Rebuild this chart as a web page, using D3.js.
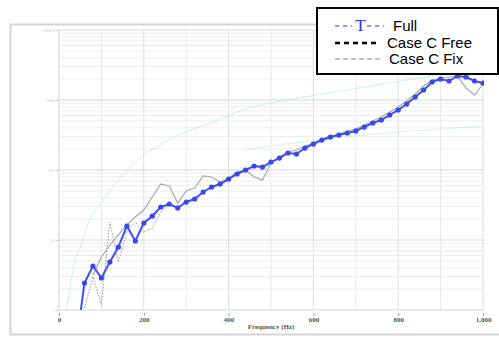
<!DOCTYPE html>
<html>
<head>
<meta charset="utf-8">
<script src="https://cdn.jsdelivr.net/npm/d3@7"></script>
<style>
  body { margin: 0; background: #fff; }
  svg { display: block; }
</style>
</head>
<body>
<svg id="chart" width="499" height="339"></svg>
<script>
// frequency (Hz) of the measured points
const freqs = [60, 80, 100, 120, 140, 160, 180, 200, 220, 240, 260, 280, 300, 320, 340, 360, 380, 400,
  420, 440, 460, 480, 500, 520, 540, 560, 580, 600, 620, 640, 660, 680, 700, 720, 740, 760, 780, 800,
  820, 840, 860, 880, 900, 920, 940, 960, 980, 1000];
const fullVals = [2.43, 4.25, 2.87, 4.85, 7.94, 15.8, 9.68, 17.5, 22.0, 29.6, 32.7, 28.7, 34.9, 38.5, 48.5,
  57.2, 63.1, 74.3, 87.7, 100, 114, 110, 130, 148, 175, 169, 206, 235, 268, 296, 316, 338, 361, 411, 469,
  518, 611, 720, 877, 1104, 1389, 1807, 1995, 1868, 2203, 2131, 1868, 1749];
const freeVals = [1.07, 2.96, 1.18, 18.1, 4.85, 13.0, 18.1, 13.0, 14.8, 25.1, 32, 29, 35, 39, 48, 57, 63, 74,
  88, 100, 114, 110, 130, 148, 175, 169, 206, 235, 268, 296, 316, 338, 361, 411, 469, 518, 611, 720, 877,
  1104, 1389, 1807, 1995, 1868, 2203, 2131, 1868, 1749];
const fixFreqs = freqs.slice(1);
const fixVals = [3.16, 5.72, 8.48, 11.8, 16.4, 21.3, 26.8, 41.2, 63.1, 59.1, 33.8, 50.1, 55.3, 82.1, 79.4,
  67.4, 76.9, 93.6, 100, 79.4, 72.0, 126, 153, 181, 193, 220, 243, 277, 306, 327, 361, 385, 439, 501, 572,
  674, 794, 968, 1218, 1585, 1931, 2062, 2131, 2203, 1484, 1179, 1693];
// reference curves (light cyan)
const upperFreqs = [18, 25, 35, 50, 70, 100, 140, 200, 250, 300, 350, 450, 550, 650, 750, 850, 1000];
const upperVals = [1.0, 1.81, 4.39, 7.69, 18.1, 33.8, 72.0, 164, 251, 349, 454, 769, 1033, 1301, 1638, 2062, 2683];
const lowerFreqs = [440, 500, 600, 700, 800, 900, 1000];
const lowerVals = [193, 220, 260, 306, 349, 385, 425];

const xTicks = [0, 200, 400, 600, 800, 1000];
const yTicks = [1, 10, 100, 1000, 10000];

const svg = d3.select('#chart');
const pLeft = 58, pRight = 484, pTop = 30, pBottom = 310;

const x = d3.scaleLinear().domain([0, 1000]).range([59, 483]);
const y = d3.scaleLog().domain([1, 10000]).range([pBottom, pTop]);

// outer frame
svg.append('rect').attr('x', 10.5).attr('y', 24.5).attr('width', 500).attr('height', 310)
  .attr('fill', 'none').attr('stroke', '#d4d4d4').attr('stroke-width', 2);

// grid
const grid = svg.append('g');
grid.selectAll('.vx').data(d3.range(0, 1001, 100)).enter().append('line')
  .attr('x1', d => x(d)).attr('x2', d => x(d)).attr('y1', pTop).attr('y2', pBottom)
  .attr('stroke', d => d % 200 === 0 ? '#dcdcdc' : '#e8e8e8').attr('stroke-width', 1);
const minor = [];
for (let e = 0; e < 4; e++) for (let m = 1; m < 10; m++) minor.push(m * Math.pow(10, e));
minor.push(10000);
grid.selectAll('.hy').data(minor).enter().append('line')
  .attr('x1', pLeft).attr('x2', pRight).attr('y1', d => y(d)).attr('y2', d => y(d))
  .attr('stroke', d => yTicks.includes(d) ? '#d8d8d8' : '#ececec').attr('stroke-width', 1);

// axes (tick labels only, the axis lines are faint)
const xAxis = svg.append('g').attr('transform', 'translate(0,' + (pBottom + 3) + ')')
  .call(d3.axisBottom(x).tickValues(xTicks).tickSize(3).tickPadding(1));
xAxis.select('.domain').remove();
xAxis.selectAll('line').attr('stroke', '#999');
xAxis.selectAll('text').attr('font-family', 'Liberation Serif').attr('font-size', 7)
  .attr('font-weight', 'bold').attr('fill', '#555');

const yAxis = svg.append('g').attr('transform', 'translate(' + pLeft + ',0)')
  .call(d3.axisLeft(y).tickValues(yTicks).tickFormat(d3.format('d')).tickSize(2).tickPadding(1));
yAxis.select('.domain').attr('stroke', '#e0e0e0');
yAxis.selectAll('line').attr('stroke', '#ccc');
yAxis.selectAll('text').attr('font-family', 'Liberation Serif').attr('font-size', 5).attr('fill', '#c8c8c8');

svg.append('text').attr('x', 271).attr('y', 329).attr('text-anchor', 'middle')
  .attr('font-family', 'Liberation Serif').attr('font-size', 7).attr('font-weight', 'bold')
  .attr('fill', '#555').text('Frequency (Hz)');

// data
svg.append('clipPath').attr('id', 'plot').append('rect')
  .attr('x', pLeft).attr('y', pTop).attr('width', pRight - pLeft).attr('height', pBottom - pTop);
const plot = svg.append('g').attr('clip-path', 'url(#plot)');

const line = d3.line().x(d => x(d[0])).y(d => y(d[1]));
const pairs = (fs, vs) => fs.map((f, i) => [f, vs[i]]);

plot.append('path').datum(pairs(upperFreqs, upperVals)).attr('d', line.curve(d3.curveMonotoneX))
  .attr('fill', 'none').attr('stroke', '#b0e8e2').attr('stroke-width', 1).attr('stroke-dasharray', '2,1');
plot.append('path').datum(pairs(lowerFreqs, lowerVals)).attr('d', line)
  .attr('fill', 'none').attr('stroke', '#bcece6').attr('stroke-width', 1).attr('stroke-dasharray', '2,1');
line.curve(d3.curveLinear);

plot.append('path').datum(pairs(freqs, freeVals)).attr('d', line)
  .attr('fill', 'none').attr('stroke', '#999').attr('stroke-width', 1).attr('stroke-dasharray', '1.5,1.5');
plot.append('path').datum(pairs(fixFreqs, fixVals)).attr('d', line)
  .attr('fill', 'none').attr('stroke', '#a8a8a8').attr('stroke-width', 1.2);

// the 40 Hz end of the Full curve runs below the axis
const fullPts = [[40, 0.3]].concat(pairs(freqs, fullVals));
plot.append('path').datum(fullPts).attr('d', line)
  .attr('fill', 'none').attr('stroke', '#4050f4').attr('stroke-width', 2);
plot.selectAll('.pt').data(pairs(freqs, fullVals)).enter().append('circle')
  .attr('cx', d => x(d[0])).attr('cy', d => y(d[1])).attr('r', 2.6).attr('fill', '#3848ef');

// legend
const lg = svg.append('g');
lg.append('rect').attr('x', 317).attr('y', 8).attr('width', 181).attr('height', 66)
  .attr('fill', '#fff').attr('stroke', '#000').attr('stroke-width', 2);
lg.append('line').attr('x1', 335).attr('x2', 352).attr('y1', 26).attr('y2', 26)
  .attr('stroke', '#2233ee').attr('stroke-width', 1.2).attr('stroke-dasharray', '4,4');
lg.append('line').attr('x1', 367).attr('x2', 384).attr('y1', 26).attr('y2', 26)
  .attr('stroke', '#2233ee').attr('stroke-width', 1.2).attr('stroke-dasharray', '4,4');
lg.append('text').attr('x', 360.5).attr('y', 31).attr('text-anchor', 'middle')
  .attr('font-family', 'Liberation Serif').attr('font-size', 17).attr('fill', '#2233ee').text('T');
lg.append('line').attr('x1', 335).attr('x2', 379).attr('y1', 43).attr('y2', 43)
  .attr('stroke', '#000').attr('stroke-width', 2.5).attr('stroke-dasharray', '5,4');
lg.append('line').attr('x1', 335).attr('x2', 380).attr('y1', 59).attr('y2', 59)
  .attr('stroke', '#888').attr('stroke-width', 1).attr('stroke-dasharray', '5,3');
const labels = [['Full', 393, 31], ['Case C Free', 387, 47.5], ['Case C Fix', 389, 64]];
lg.selectAll('.lt').data(labels).enter().append('text')
  .attr('x', d => d[1]).attr('y', d => d[2])
  .attr('font-family', 'Liberation Sans, Arial').attr('font-size', 15).attr('fill', '#000')
  .text(d => d[0]);
</script>
</body>
</html>
